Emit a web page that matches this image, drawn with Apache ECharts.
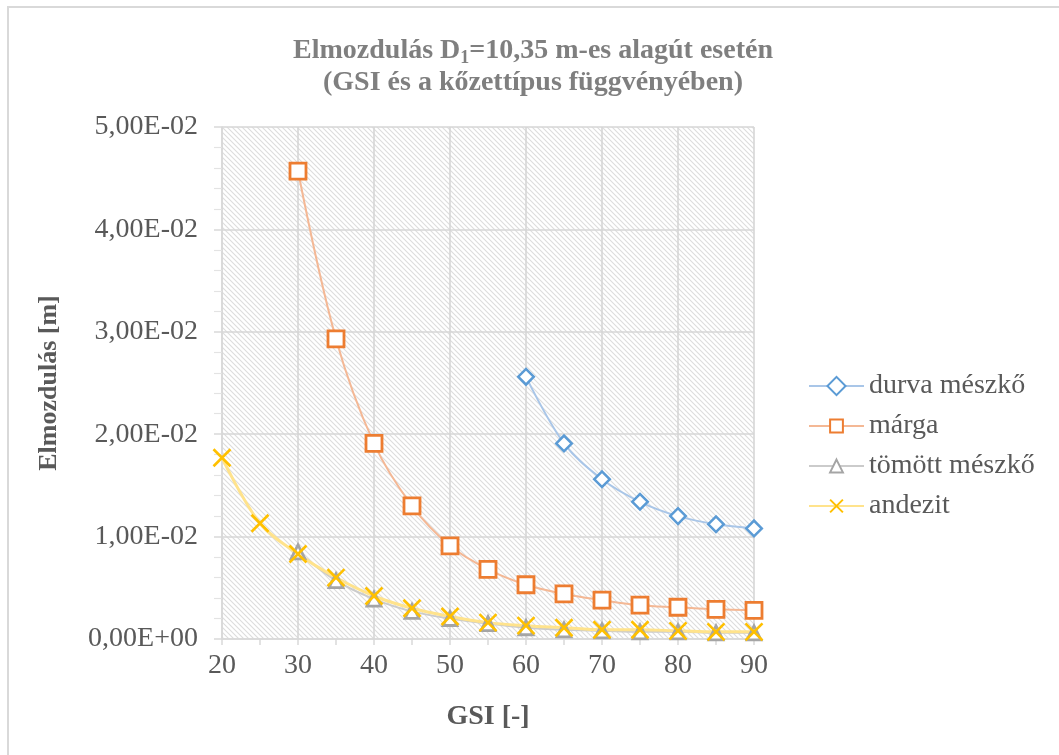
<!DOCTYPE html>
<html>
<head>
<meta charset="utf-8">
<script src="https://cdn.jsdelivr.net/npm/echarts@6/dist/echarts.min.js"></script>
<style>
html,body{margin:0;padding:0;background:#fff;}
#chart{width:1059px;height:755px;}
</style>
</head>
<body>
<div id="chart"></div>
<script>
// ---- data ----
const seriesNames = ['durva mészkő', 'márga', 'tömött mészkő', 'andezit'];
const gsiDurva   = [60, 65, 70, 75, 80, 85, 90];
const durva      = [0.0256, 0.0191, 0.0156, 0.0134, 0.0120, 0.0112, 0.0108];
const gsiMarga   = [30, 35, 40, 45, 50, 55, 60, 65, 70, 75, 80, 85, 90];
const marga      = [0.0457, 0.0293, 0.0191, 0.0130, 0.0091, 0.0068, 0.0053, 0.0044, 0.0038, 0.0033, 0.0031, 0.0029, 0.0028];
const gsiTomott  = [30, 35, 40, 45, 50, 55, 60, 65, 70, 75, 80, 85, 90];
const tomott     = [0.0085, 0.0057, 0.0039, 0.0027, 0.0020, 0.0015, 0.0011, 0.0009, 0.0008, 0.0007, 0.0007, 0.0006, 0.0006];
const gsiAndezit = [20, 25, 30, 35, 40, 45, 50, 55, 60, 65, 70, 75, 80, 85, 90];
const andezit    = [0.0177, 0.0113, 0.0083, 0.0060, 0.0042, 0.0030, 0.0022, 0.0016, 0.0013, 0.0011, 0.0009, 0.0009, 0.0008, 0.0007, 0.0007];

function pairs(xs, ys){ return xs.map((x,i)=>[x, ys[i]]); }
function sciFmt(v){
  if (Math.abs(v) < 1e-12) return '0,00E+00';
  const s = v.toExponential(2).split('e');
  const m = s[0].replace('.', ',');
  const e = parseInt(s[1], 10);
  const es = (e < 0 ? '-' : '+') + String(Math.abs(e)).padStart(2, '0');
  return m + 'E' + es;
}

// hatch pattern
const pc = document.createElement('canvas');
const P = 5;
pc.width = P; pc.height = P;
const g = pc.getContext('2d');
g.fillStyle = '#ffffff'; g.fillRect(0,0,P,P);
g.strokeStyle = '#dcdcdc'; g.lineWidth = 1.1;
for (const k of [-P, 0, P]) {
  g.beginPath(); g.moveTo(-1, -1 + k); g.lineTo(P + 1, P + 1 + k); g.stroke();
}

const serif = '"Liberation Serif", "DejaVu Serif", serif';
const txt = '#595959';

const chart = echarts.init(document.getElementById('chart'), null, {renderer: 'canvas'});
const xMark = 'path://M0,0 L10,10 M10,0 L0,10';

chart.setOption({
  animation: false,
  backgroundColor: '#ffffff',
  title: {
    text: '{a|Elmozdulás D}{sub|1}{a|=10,35 m-es alagút esetén}\n{a|(GSI és a kőzettípus függvényében)}',
    left: 528, top: 30, textAlign: 'center',
    textStyle: {
      rich: {
        a: {fontFamily: serif, fontWeight: 'bold', fontSize: 28, color: '#7f7f7f', lineHeight: 32},
        sub: {fontFamily: serif, fontWeight: 'bold', fontSize: 18, color: '#7f7f7f', verticalAlign: 'bottom', padding: [14,0,0,0], lineHeight: 32}
      }
    }
  },
  graphic: [{
    type: 'rect', silent: true, z: -10,
    shape: {x: 8, y: 7, width: 1200, height: 900},
    style: {fill: 'none', stroke: '#d9d9d9', lineWidth: 2}
  }],
  grid: {
    left: 222, top: 127, width: 532, height: 512,
    show: true, borderWidth: 0,
    backgroundColor: {image: pc, repeat: 'repeat'}
  },
  legend: {
    orient: 'vertical', left: 808, top: 372, padding: 0,
    itemWidth: 55, itemHeight: 16, itemGap: 12,
    data: seriesNames,
    textStyle: {fontFamily: serif, fontSize: 28, color: txt, lineHeight: 27}
  },
  xAxis: {
    type: 'value', min: 20, max: 90, interval: 10,
    name: 'GSI [-]', nameLocation: 'middle', nameGap: 64,
    nameTextStyle: {fontFamily: serif, fontWeight: 'bold', fontSize: 28, color: txt},
    axisLine: {show: true, lineStyle: {color: '#d9d9d9', width: 1.5}},
    axisTick: {show: true, length: 6, lineStyle: {color: '#d9d9d9', width: 1.5}},
    minorTick: {show: true, splitNumber: 2, length: 6, lineStyle: {color: '#d9d9d9', width: 1.5}},
    axisLabel: {fontFamily: serif, fontSize: 28, color: txt, margin: 13},
    splitLine: {show: true, lineStyle: {color: '#d6d6d6', width: 1.6}}
  },
  yAxis: {
    type: 'value', min: 0, max: 0.05, interval: 0.01,
    name: 'Elmozdulás [m]', nameLocation: 'middle', nameGap: 160,
    nameTextStyle: {fontFamily: serif, fontWeight: 'bold', fontSize: 26, color: txt},
    axisLine: {show: true, lineStyle: {color: '#d9d9d9', width: 1.5}},
    axisTick: {show: true, length: 8, lineStyle: {color: '#d9d9d9', width: 1.5}},
    minorTick: {show: true, splitNumber: 5, length: 8, lineStyle: {color: '#e3e3e3', width: 1.2}},
    axisLabel: {fontFamily: serif, fontSize: 28, color: txt, margin: 24, formatter: sciFmt},
    splitLine: {show: true, lineStyle: {color: '#d6d6d6', width: 1.6}}
  },
  series: [
    {
      name: seriesNames[0], type: 'line', smooth: 0.35,
      data: pairs(gsiDurva, durva),
      symbol: 'rect', symbolSize: 11, symbolRotate: 45,
      itemStyle: {color: '#ffffff', borderColor: '#5b9bd5', borderWidth: 2.5},
      lineStyle: {color: '#a9c6e8', width: 2}
    },
    {
      name: seriesNames[1], type: 'line', smooth: 0.35,
      data: pairs(gsiMarga, marga),
      symbol: 'rect', symbolSize: 16,
      itemStyle: {color: '#ffffff', borderColor: '#ed7d31', borderWidth: 2.8},
      lineStyle: {color: '#f4b895', width: 2}
    },
    {
      name: seriesNames[2], type: 'line', smooth: 0.35,
      data: pairs(gsiTomott, tomott),
      symbol: 'triangle', symbolSize: 14,
      itemStyle: {color: '#ffffff', borderColor: '#a5a5a5', borderWidth: 2.8},
      lineStyle: {color: '#cbcbcb', width: 2}
    },
    {
      name: seriesNames[3], type: 'line', smooth: 0.35,
      data: pairs(gsiAndezit, andezit),
      symbol: xMark, symbolSize: 17, symbolKeepAspect: true,
      itemStyle: {color: '#ffc000', borderColor: '#ffc000', borderWidth: 2.6},
      lineStyle: {color: '#ffe38c', width: 3}
    }
  ]
});
</script>
</body>
</html>
